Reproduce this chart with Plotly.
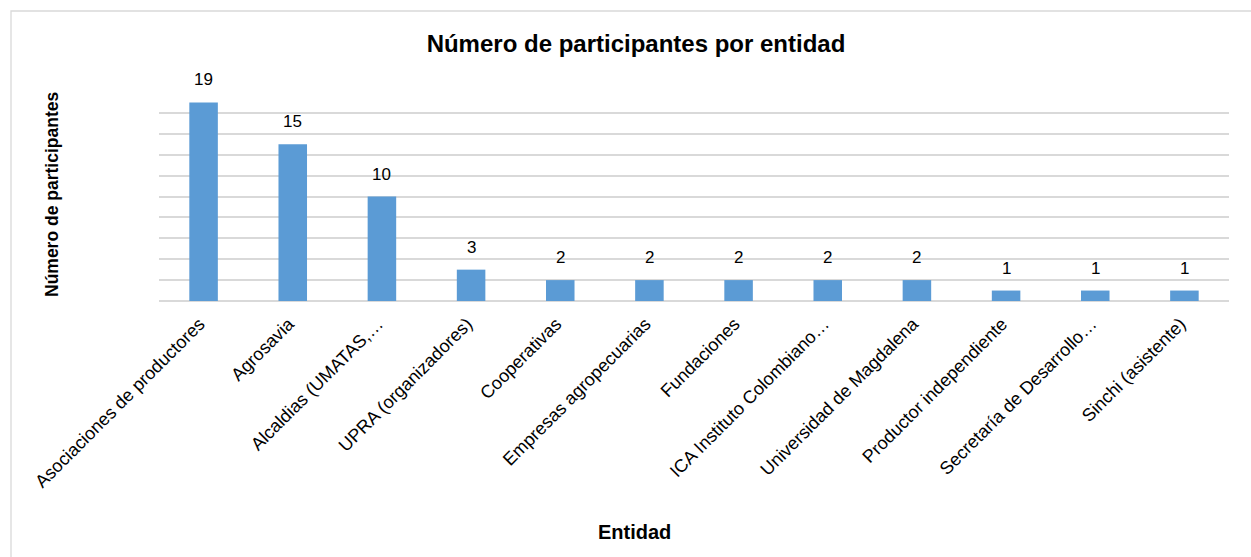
import plotly.graph_objects as go

categories = [
    "Asociaciones de productores",
    "Agrosavia",
    "Alcaldias (UMATAS,…",
    "UPRA (organizadores)",
    "Cooperativas",
    "Empresas agropecuarias",
    "Fundaciones",
    "ICA Instituto Colombiano…",
    "Universidad de Magdalena",
    "Productor independiente",
    "Secretaría de Desarrollo…",
    "Sinchi (asistente)",
]
values = [19, 15, 10, 3, 2, 2, 2, 2, 2, 1, 1, 1]

title_text = "Número de participantes por entidad"
x_title = "Entidad"
y_title = "Número de participantes"

W, H = 1251, 557
L, R, T, B = 159, 22, 92, 256
pw = W - L - R
ph = H - T - B

def px_x(px):
    return (px - L) / pw

def px_y(py):
    return (H - B - py) / ph

FONT = "Liberation Sans, Arial, sans-serif"

fig = go.Figure()
fig.add_trace(go.Bar(
    x=categories,
    y=values,
    marker=dict(color="#5B9BD5", line=dict(width=0)),
    hoverinfo="x+y",
))

for c, v in zip(categories, values):
    fig.add_annotation(
        x=c, y=v, text=str(v), showarrow=False,
        yanchor="bottom", yshift=11,
        font=dict(family=FONT, size=17, color="#000000"),
    )

fig.add_annotation(
    xref="paper", yref="paper", x=px_x(634), y=px_y(532),
    text="<b>" + x_title + "</b>", showarrow=False,
    xanchor="center", yanchor="middle",
    font=dict(family=FONT, size=20, color="#000000"),
)
fig.add_annotation(
    xref="paper", yref="paper", x=px_x(52), y=px_y(195),
    text="<b>" + y_title + "</b>", showarrow=False, textangle=-90,
    xanchor="center", yanchor="middle",
    font=dict(family=FONT, size=17.5, color="#000000"),
)

fig.add_shape(
    type="rect", xref="paper", yref="paper",
    x0=px_x(11), x1=px_x(1270), y0=px_y(575), y1=px_y(11),
    line=dict(color="#D9D9D9", width=1.3), fillcolor="rgba(0,0,0,0)",
    layer="below",
)

fig.update_layout(
    width=W, height=H,
    margin=dict(l=L, r=R, t=T, b=B, autoexpand=False),
    paper_bgcolor="white", plot_bgcolor="white",
    bargap=0.68,
    showlegend=False,
    title=dict(
        text="<b>" + title_text + "</b>",
        x=636 / W, xref="container", xanchor="center",
        y=1 - 44 / H, yref="container", yanchor="middle",
        font=dict(family=FONT, size=24, color="#000000"),
    ),
    xaxis=dict(
        tickangle=-45,
        tickfont=dict(family=FONT, size=18, color="#000000"),
        showgrid=False, showline=False, ticks="",
        ticklabelstandoff=8, ticklabelshift=-4,
        automargin=False,
    ),
    yaxis=dict(
        range=[0, 20], dtick=2, showticklabels=False,
        showgrid=True, gridcolor="#D9D9D9", gridwidth=1.5,
        zeroline=True, zerolinecolor="#D9D9D9", zerolinewidth=1.5,
        showline=False, ticks="", automargin=False,
    ),
)

fig.write_html(
    "out.html",
    config={"displayModeBar": False},
    post_script="document.body.style.margin='0';document.body.style.overflow='hidden';",
)
